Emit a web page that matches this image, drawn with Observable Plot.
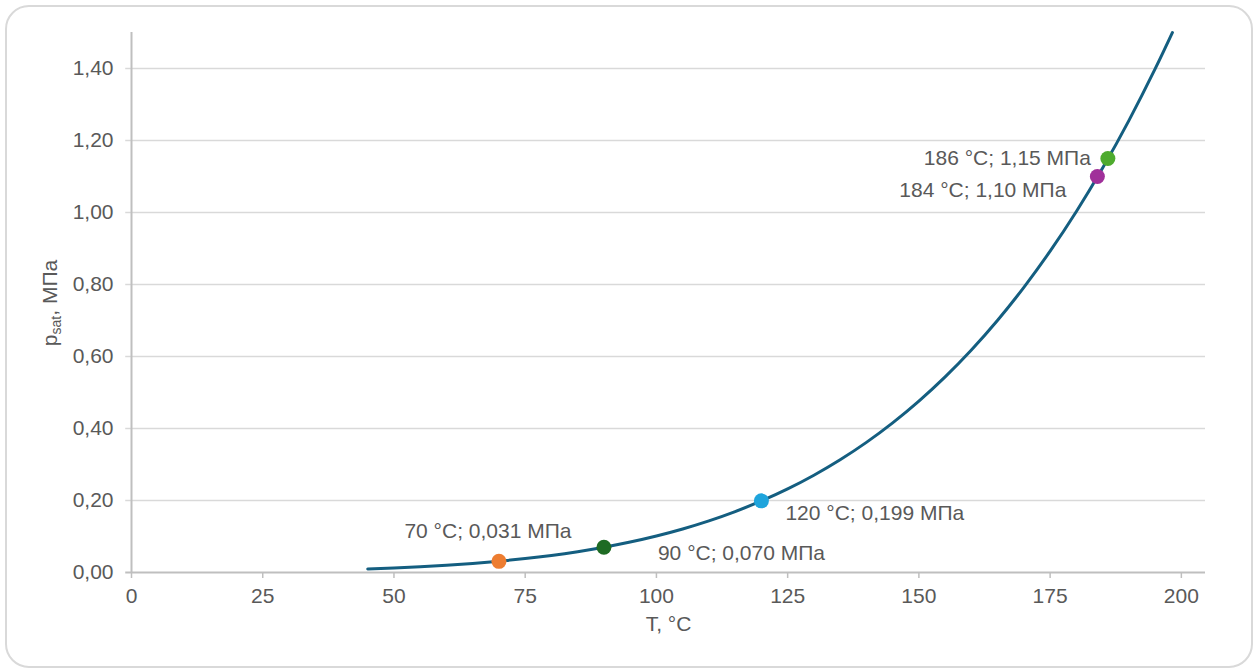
<!DOCTYPE html>
<html>
<head>
<meta charset="utf-8">
<script src="https://cdn.jsdelivr.net/npm/d3@7"></script>
<script src="https://cdn.jsdelivr.net/npm/@observablehq/plot@0.6"></script>
<style>
  html, body { margin: 0; padding: 0; background: #fff; }
  #wrap { position: relative; width: 1259px; height: 672px; }
  #frame { position: absolute; left: 5px; top: 5px; width: 1244px; height: 659px;
           border: 2px solid #d9d9d9; border-radius: 24px; box-sizing: content-box; }
  #chart { position: absolute; left: 0; top: 0; }
</style>
</head>
<body>
<div id="wrap"><div id="frame"></div><div id="chart"></div></div>
<script>
// Saturation curve (T in °C, p in MPa)
const curveT = [45, 50, 55, 60, 65, 70, 75, 80, 85, 90, 95, 100, 105, 110, 115, 120, 125, 130, 135, 140, 145, 150, 155, 160, 165, 170, 175, 180, 185, 190, 195, 198.3];
const curveP = [0.0096, 0.0124, 0.0158, 0.0200, 0.0250, 0.0312, 0.0386, 0.0474, 0.0579, 0.0702, 0.0846, 0.1014, 0.1209, 0.1434, 0.1692, 0.1987, 0.2322, 0.2703, 0.3132, 0.3615, 0.4157, 0.4762, 0.5435, 0.6182, 0.7009, 0.7922, 0.8926, 1.0028, 1.1235, 1.2552, 1.3988, 1.5000];

// Highlighted points
const pointT = [70, 90, 120, 184, 186];
const pointP = [0.031, 0.070, 0.199, 1.10, 1.15];
const pointColors = ["#ed7d31", "#1e6b24", "#1ea4dc", "#a0309a", "#4eab2e"];
const pointLabels = ["70 °C; 0,031 МПа", "90 °C; 0,070 МПа", "120 °C; 0,199 МПа", "184 °C; 1,10 МПа", "186 °C; 1,15 МПа"];

// Axis ticks
const xTicks = [0, 25, 50, 75, 100, 125, 150, 175, 200];
const yTicks = [0, 0.2, 0.4, 0.6, 0.8, 1.0, 1.2, 1.4];

const curve = curveT.map((t, i) => ({t, p: curveP[i]}));
const points = pointT.map((t, i) => ({t, p: pointP[i], color: pointColors[i], label: pointLabels[i]}));

// label placement relative to point
const labelPos = [
  {anchor: "middle", dx: -11, dy: -30},
  {anchor: "start", dx: 54, dy: 6},
  {anchor: "start", dx: 24, dy: 12},
  {anchor: "end", dx: -31, dy: 14},
  {anchor: "end", dx: -17, dy: 0}
];

const fmtY = d => d.toFixed(2).replace(".", ",");
const textColor = "#595959";
const font = "Liberation Sans, Arial, sans-serif";
const fs = 21;

const plot = Plot.plot({
  width: 1259,
  height: 672,
  marginLeft: 131,
  marginRight: 54,
  marginTop: 32,
  marginBottom: 100,
  style: {fontFamily: font, fontSize: fs + "px", color: textColor, background: "transparent"},
  x: {domain: [0, 204.6], ticks: xTicks},
  y: {domain: [0, 1.5], ticks: yTicks},
  marks: [
    Plot.ruleY(yTicks.filter(d => d > 0), {x1: -1.1, x2: 204.6, stroke: "#d9d9d9", strokeWidth: 1.5}),
    Plot.ruleX([0], {y1: 0, y2: 1.5, stroke: "#bfbfbf", strokeWidth: 2}),
    Plot.ruleY([0], {x1: -1.1, x2: 204.6, stroke: "#bfbfbf", strokeWidth: 2}),
    Plot.axisY({ticks: yTicks, tickFormat: fmtY, tickSize: 0, tickPadding: 18, fontSize: fs, fill: textColor, label: null}),
    Plot.axisX({ticks: xTicks, tickFormat: d => String(d), tickSize: 6, stroke: "#bfbfbf", strokeWidth: 1.5, tickPadding: 10, fontSize: fs, fill: textColor, label: null}),
    Plot.line(curve, {x: "t", y: "p", stroke: "#145e80", strokeWidth: 3, curve: "natural"}),
    Plot.dot(points, {x: "t", y: "p", fill: "color", r: 7.5, stroke: "none"}),
    ...points.map((d, i) => Plot.text([d], {x: "t", y: "p", text: "label", textAnchor: labelPos[i].anchor, dx: labelPos[i].dx, dy: labelPos[i].dy, fontSize: fs, fill: textColor})),
    Plot.text(["T, °C"], {frameAnchor: "bottom", dy: 58, fontSize: fs, fill: textColor})
  ]
});

document.getElementById("chart").appendChild(plot);

// y-axis title with subscript
const svg = d3.select(plot);
const yl = svg.append("text")
  .attr("transform", "translate(57,303) rotate(-90)")
  .attr("text-anchor", "middle")
  .attr("fill", textColor)
  .attr("font-family", font)
  .attr("font-size", fs);
yl.append("tspan").text("p");
yl.append("tspan").attr("font-size", 14).attr("dy", 4).text("sat");
yl.append("tspan").attr("dy", -4).text(", МПа");
</script>
</body>
</html>
